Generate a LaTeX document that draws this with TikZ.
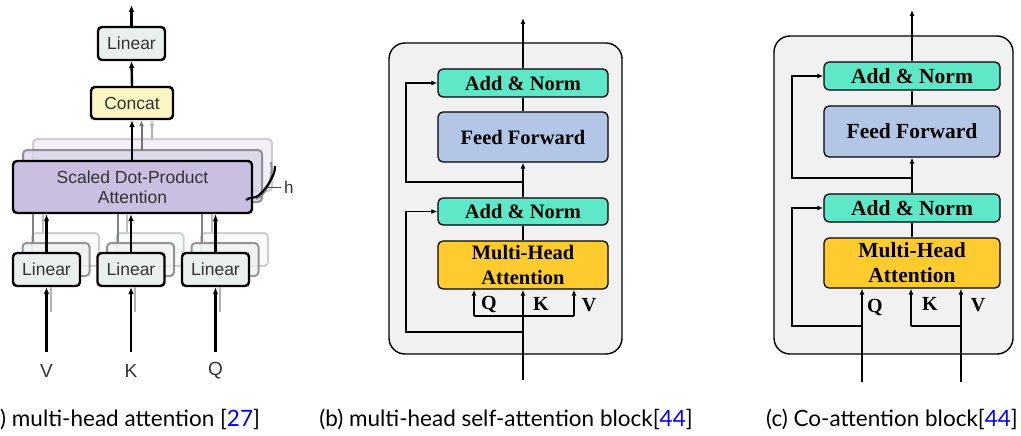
\documentclass[tikz,border=0pt]{standalone}
\usepackage{fontspec}
\setmainfont{Liberation Serif}
\newfontfamily\helv{Liberation Sans}
\newfontfamily\capfont{Lato}
\usetikzlibrary{arrows.meta,calc}
\definecolor{linfill}{HTML}{E9EFED}
\definecolor{catfill}{HTML}{FBF5C3}
\definecolor{sdpafill}{HTML}{C9BFE0}
\definecolor{anfill}{HTML}{5EE8C8}
\definecolor{fffill}{HTML}{B4C6E6}
\definecolor{mhafill}{HTML}{FFCB2F}
\definecolor{framefill}{HTML}{F1F1F1}
\definecolor{citeblue}{HTML}{0000FF}
\tikzset{
  abox/.style={draw=black, line width=2.4pt, rounded corners=4pt, inner sep=0pt, font=\helv\fontsize{17.5}{20}\selectfont, text=black!80, align=center},
  aback/.style={draw=black!55, line width=2pt, rounded corners=4pt, inner sep=0pt, opacity=0.75},
  aback2/.style={draw=black!30, line width=2pt, rounded corners=4pt, inner sep=0pt, opacity=0.6},
  aarr/.style={line width=2.4pt, -{Latex[length=7pt,width=6pt]}},
  garr/.style={line width=2pt, -{Latex[length=6pt,width=5pt]}},
  bbox/.style={draw=black, line width=1.3pt, rounded corners=5pt, inner sep=0pt, font=\bfseries\fontsize{20.5}{25}\selectfont, align=center},
  cbox/.style={bbox, font=\bfseries\fontsize{21.5}{25}\selectfont},
  outerframe/.style={draw=black, line width=1.4pt, rounded corners=16pt, fill=framefill, inner sep=0pt},
  barr/.style={line width=1.4pt, -{Latex[length=6pt,width=5pt]}},
  bline/.style={line width=1.4pt},
  qkv/.style={font=\bfseries\fontsize{20}{20}\selectfont, inner sep=0pt},
  capstyle/.style={font=\capfont\fontsize{22.5}{24}\selectfont, inner sep=0pt},
  inlab/.style={font=\helv\fontsize{19}{19}\selectfont, text=black!80, inner sep=0pt}
}
\begin{document}
\begin{tikzpicture}[x=1pt,y=-1pt]
\useasboundingbox (0,0) rectangle (1021,436);

% ---------------- (a) ----------------
\node[aback2, fill=sdpafill!40, minimum width=239pt, minimum height=52pt] (sdpa3) at (152.5,165) {};
\node[aback, fill=sdpafill!70, minimum width=239pt, minimum height=52pt] (sdpa2) at (142.5,176) {};
\node[abox, fill=sdpafill, minimum width=239pt, minimum height=52pt] (sdpa) at (132.5,187) {Scaled Dot-Product\\Attention};

\node[abox, fill=catfill, minimum width=82pt, minimum height=32pt] (concat) at (132,103) {Concat};
\node[abox, fill=linfill, minimum width=67pt, minimum height=33pt] (lintop) at (131.5,43.5) {Linear};
\coordinate (atop) at (131.5,5);

\foreach \n/\x in {V/46.5,K/131,Q/215.5}{
  \node[aback2, fill=linfill!50, minimum width=67pt, minimum height=33pt] (lin\n3) at (\x+19,249.5) {};
  \node[aback, fill=linfill!80, minimum width=67pt, minimum height=33pt] (lin\n2) at (\x+9.5,259.5) {};
  \node[abox, fill=linfill, minimum width=67pt, minimum height=33pt] (lin\n) at (\x,269.5) {Linear};
  \draw[line width=2pt, black!25] (lin\n3.north) ++(-23,0) coordinate (t3\n) -- (t3\n |- sdpa.south);
  \draw[line width=2pt, black!50] (lin\n2.north) ++(-23,0) coordinate (t2\n) -- (t2\n |- sdpa.south);
  \draw[aarr] (lin\n.north) -- (lin\n.north |- sdpa.south);
  \coordinate (in\n) at (\x,352);
  \draw[line width=2pt, black!30] ($(in\n)+(4,-40)$) coordinate (sh\n) -- ($(lin\n.south)+(4,0)$);
  \draw[aarr] (in\n) -- (lin\n.south);
  \node[inlab] (lab\n) at (\x,371) {\n};
}

\draw[aarr] (sdpa.north -| concat) -- (concat.south);
\coordinate (g2) at (141.5,150);
\coordinate (g3) at (152,139);
\draw[garr, black!55] (g2) -- (g2 |- concat.south);
\draw[garr, black!30] (g3) -- (g3 |- concat.south);
\draw[aarr] (concat.north) -- (lintop.south);
\draw[aarr] (lintop.north) -- (atop);

% h bracket
\coordinate (hb1) at (275,166);
\coordinate (hb2) at (246,200);
\draw[line width=2pt, black!45] (271,162) .. controls (274,180) and (265,196) .. (256,199);
\draw[line width=2.2pt, black] (hb1) .. controls (276,176) and (262,195) .. (256,197) .. controls (252,198) and (248,198) .. (hb2);
\draw[line width=1pt, black!70] (267,187) -- (281,187);
\node[inlab, font=\helv\fontsize{17}{17}\selectfont, anchor=west] (hlab) at (284,187) {h};

\node[capstyle, anchor=west] (capa) at (0,419) {) multi-head attention [\textcolor{citeblue}{27}]};

% ---------------- (b) ----------------
\node[outerframe, minimum width=233pt, minimum height=311pt] (frameb) at (505.5,198.5) {};
\node[bbox, fill=anfill, minimum width=170pt, minimum height=28pt] (anb1) at (523,83) {Add \& Norm};
\node[bbox, fill=fffill, minimum width=170pt, minimum height=50pt] (ffb) at (523,137) {Feed Forward};
\node[bbox, fill=anfill, minimum width=170pt, minimum height=27pt] (anb2) at (523,211.5) {Add \& Norm};
\node[bbox, fill=mhafill, minimum width=170pt, minimum height=48pt] (mhab) at (523,265) {Multi-Head\\Attention};
\coordinate (btop) at (523,18);
\coordinate (lb) at (406,0);
\coordinate (rb1) at (523,182);
\coordinate (rb2) at (523,332);
\coordinate (inb) at (523,380);
\coordinate (bq) at (474,316);
\coordinate (bv) at (574,316);
\draw[barr] (anb1.north) -- (btop);
\draw[bline] (ffb.north) -- (anb1.south);
\draw[barr] (anb2.north) -- (ffb.south);
\draw[bline] (mhab.north) -- (anb2.south);
\draw[barr] (rb1) -| (lb |- anb1.west) -- (anb1.west);
\draw[barr] (rb2) -| (lb |- anb2.west) -- (anb2.west);
\draw[barr] (inb) -- (mhab.south);
\draw[bline] (bq) -- (bv);
\draw[barr] (bq) -- (bq |- mhab.south);
\draw[barr] (bv) -- (bv |- mhab.south);
\node[qkv] (qb) at (489,304) {Q};
\node[qkv] (kb) at (541,304) {K};
\node[qkv] (vb) at (589,305) {V};
\node[capstyle] (capb) at (506,419) {(b) multi-head self-attention block[\textcolor{citeblue}{44}]};

% ---------------- (c) ----------------
\node[outerframe, minimum width=239pt, minimum height=318pt] (framec) at (893.5,195) {};
\node[cbox, fill=anfill, minimum width=176pt, minimum height=28pt] (anc1) at (912,76) {Add \& Norm};
\node[cbox, fill=fffill, minimum width=176pt, minimum height=51pt] (ffc) at (912,131.5) {Feed Forward};
\node[cbox, fill=anfill, minimum width=176pt, minimum height=28pt] (anc2) at (912,208) {Add \& Norm};
\node[cbox, fill=mhafill, minimum width=176pt, minimum height=50pt] (mhac) at (912,263) {Multi-Head\\Attention};
\coordinate (ctop) at (912,10);
\coordinate (lc) at (792,0);
\coordinate (rc1) at (912,178);
\coordinate (rc2) at (862,326);
\coordinate (inq) at (862,382);
\coordinate (inv) at (961,382);
\coordinate (bvc) at (961,326);
\coordinate (bkc) at (911,326);
\draw[barr] (anc1.north) -- (ctop);
\draw[bline] (ffc.north) -- (anc1.south);
\draw[barr] (anc2.north) -- (ffc.south);
\draw[bline] (mhac.north) -- (anc2.south);
\draw[barr] (rc1) -| (lc |- anc1.west) -- (anc1.west);
\draw[barr] (rc2) -| (lc |- anc2.west) -- (anc2.west);
\draw[barr] (inq) -- (inq |- mhac.south);
\draw[barr] (inv) -- (inv |- mhac.south);
\draw[bline] (bvc) -- (bkc);
\draw[barr] (bkc) -- (bkc |- mhac.south);
\node[qkv] (qc) at (875,307) {Q};
\node[qkv] (kc) at (930,304) {K};
\node[qkv] (vc) at (978,305) {V};
\node[capstyle] (capc) at (892,419) {(c) Co-attention block[\textcolor{citeblue}{44}]};
\end{tikzpicture}
\end{document}
